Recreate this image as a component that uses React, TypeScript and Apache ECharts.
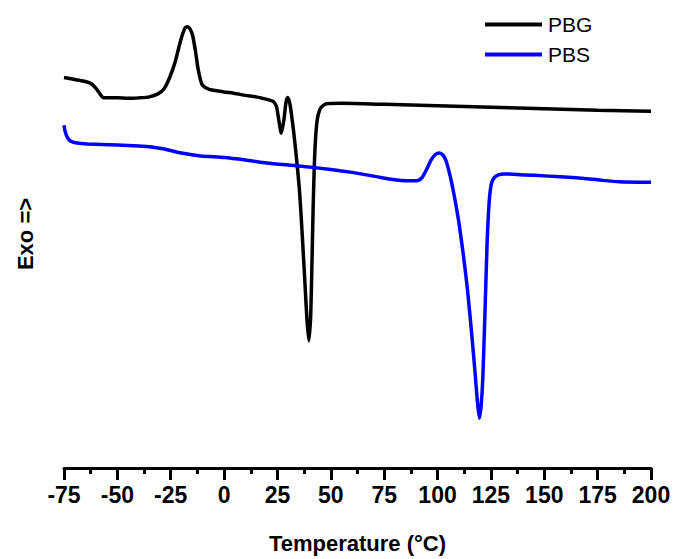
import React, { useEffect, useRef } from "react";
import * as echarts from "echarts";

// Temperature (°C) and heat flow (arbitrary units, exo up)
const pbgT = [-75, -70, -65, -62, -60, -58, -56.5, -54, -50, -45, -40, -35, -31, -28, -25.5, -23, -21, -19.4, -18.2, -17.2, -16, -14.7, -13.3, -12.3, -11, -10, -7, 0, 5, 10, 15, 20, 23, 24.5, 25.5, 26.8, 28, 29, 29.8, 30.8, 32.5, 34, 35.4, 36.6, 37.7, 38.8, 39.7, 40.5, 40.9, 41.3, 41.7, 42.2, 42.8, 43.6, 44.7, 46, 48, 55, 75, 100, 125, 150, 175, 200];
const pbgV = [39.3, 39.1, 38.9, 38.65, 38.2, 37.6, 37.25, 37.25, 37.25, 37.2, 37.25, 37.35, 37.65, 38.2, 39.3, 40.8, 42.5, 43.7, 44.3, 44.4, 44.2, 43.5, 41.8, 40.3, 39.0, 38.5, 38.1, 37.85, 37.7, 37.5, 37.35, 37.1, 36.9, 36.4, 35.2, 33.7, 35.0, 36.8, 37.3, 36.7, 34.0, 31.0, 27.7, 23.5, 19.3, 15.0, 12.8, 15.0, 18.0, 22.0, 26.0, 30.0, 33.0, 35.0, 36.0, 36.4, 36.65, 36.7, 36.6, 36.45, 36.3, 36.15, 36.0, 35.9];

const pbsT = [-75, -74.5, -73.5, -72, -69, -64, -50, -40, -34, -28, -20, -11, 0, 10, 20, 35, 50, 60, 72, 82, 88, 91, 93, 95, 97, 99, 100.8, 102.5, 104, 106, 108, 110, 112, 114, 116, 117.5, 118.7, 119.6, 120.4, 121.2, 122.2, 123.2, 124.2, 125.2, 126.5, 128.5, 131, 141, 150, 165, 175, 185, 200];
const pbsV = [34.5, 33.9, 33.3, 32.9, 32.7, 32.6, 32.5, 32.4, 32.3, 32.1, 31.7, 31.4, 31.25, 31.0, 30.7, 30.4, 30.05, 29.75, 29.3, 28.95, 28.9, 28.95, 29.3, 30.1, 31.0, 31.55, 31.7, 31.5, 30.9, 29.3, 27.2, 24.7, 21.6, 18.0, 13.5, 9.8, 6.6, 5.0, 6.2, 9.0, 15.5, 22.5, 26.8, 28.6, 29.2, 29.5, 29.6, 29.5, 29.4, 29.2, 29.0, 28.8, 28.75];

const seriesNames = ["PBG", "PBS"];
const seriesColors = ["#000000", "#0000ff"];

const FONT = "'Liberation Sans', Arial, sans-serif";

export default function App() {
  const ref = useRef<HTMLDivElement>(null);
  useEffect(() => {
    if (!ref.current) return;
    const chart = echarts.init(ref.current, undefined, { renderer: "svg" });
    const pair = (xs: number[], ys: number[]) => xs.map((x, i) => [x, ys[i]]);
    chart.setOption({
      animation: false,
      backgroundColor: "#ffffff",
      grid: { left: 64, right: 26, top: 0, bottom: 88, containLabel: false },
      legend: {
        orient: "vertical",
        left: 485,
        top: 14,
        padding: 0,
        icon: "rect",
        itemWidth: 57,
        itemHeight: 4,
        itemGap: 9,
        textStyle: { fontFamily: FONT, fontSize: 21, color: "#000", padding: [0, 0, 0, 1] },
        data: seriesNames,
      },
      xAxis: {
        type: "value",
        min: -75,
        max: 200,
        interval: 25,
        name: "Temperature (°C)",
        nameLocation: "middle",
        nameGap: 64,
        nameTextStyle: { fontFamily: FONT, fontSize: 22, fontWeight: "bold", color: "#000" },
        axisLine: { show: true, onZero: false, lineStyle: { color: "#000", width: 3 } },
        axisTick: { show: true, length: 12, lineStyle: { color: "#000", width: 3 } },
        minorTick: { show: true, splitNumber: 2, length: 6, lineStyle: { color: "#000", width: 3 } },
        axisLabel: { fontFamily: FONT, fontSize: 23, fontWeight: "bold", color: "#000", margin: 15 },
        splitLine: { show: false },
      },
      yAxis: {
        type: "value",
        min: 0,
        max: 47.1,
        name: "Exo =>",
        nameLocation: "middle",
        nameGap: 28,
        nameTextStyle: { fontFamily: FONT, fontSize: 22, fontWeight: "bold", color: "#000" },
        axisLine: { show: false },
        axisTick: { show: false },
        axisLabel: { show: false },
        splitLine: { show: false },
      },
      series: [
        {
          name: seriesNames[0],
          type: "line",
          data: pair(pbgT, pbgV),
          symbol: "none",
          smooth: 0.2,
          lineStyle: { color: seriesColors[0], width: 3.5 },
          itemStyle: { color: seriesColors[0] },
        },
        {
          name: seriesNames[1],
          type: "line",
          data: pair(pbsT, pbsV),
          symbol: "none",
          smooth: 0.2,
          lineStyle: { color: seriesColors[1], width: 3.5 },
          itemStyle: { color: seriesColors[1] },
        },
      ],
    });
    return () => chart.dispose();
  }, []);
  return <div ref={ref} style={{ width: 677, height: 559, position: "absolute", left: 0, top: 0 }} />;
}
